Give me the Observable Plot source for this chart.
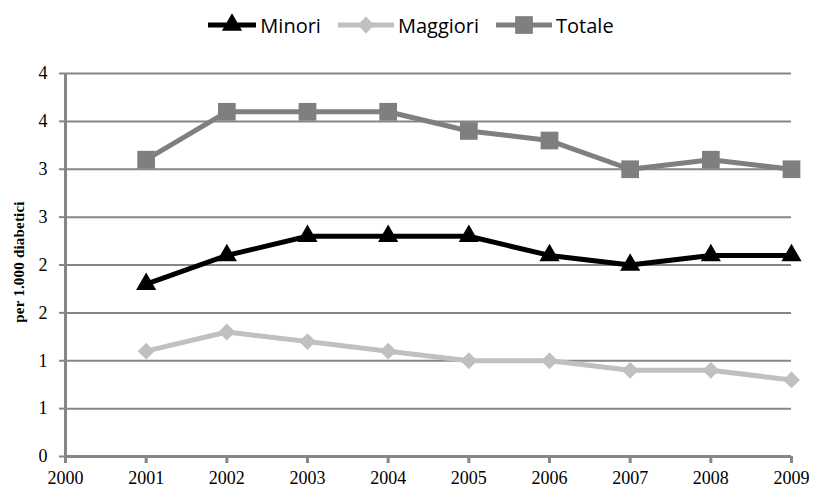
<!DOCTYPE html>
<html>
<head>
<meta charset="utf-8">
<script src="https://cdn.jsdelivr.net/npm/d3@7"></script>
<script src="https://cdn.jsdelivr.net/npm/@observablehq/plot@0.6"></script>
<style>
  html, body { margin: 0; padding: 0; background: #fff; }
  #wrap { width: 813px; height: 489px; position: relative; overflow: hidden; }
  #legend { height: 50px; display: flex; justify-content: center; align-items: center;
    font-family: "Open Sans", sans-serif; font-size: 20px; color: #000; padding-left: 8px; box-sizing: border-box; }
  .item { display: flex; align-items: center; margin-right: 16px; }
  .item:last-child { margin-right: 0; }
  .item svg { display: block; margin-right: 3px; }
  #ylab { position: absolute; left: 19px; top: 262px; transform: translate(-50%, -50%) rotate(-90deg);
    font-family: "Liberation Serif", serif; font-weight: bold; font-size: 15px; white-space: nowrap; color: #000;
    letter-spacing: 0.2px; }
</style>
</head>
<body>
<div id="wrap">
  <div id="legend"></div>
  <div id="chart"></div>
  <div id="ylab">per 1.000 diabetici</div>
</div>
<script>
const years = [2001, 2002, 2003, 2004, 2005, 2006, 2007, 2008, 2009];
const minori   = [1.8, 2.1, 2.3, 2.3, 2.3, 2.1, 2.0, 2.1, 2.1];
const maggiori = [1.1, 1.3, 1.2, 1.1, 1.0, 1.0, 0.9, 0.9, 0.8];
const totale   = [3.1, 3.6, 3.6, 3.6, 3.4, 3.3, 3.0, 3.1, 3.0];
const seriesNames = ["Minori", "Maggiori", "Totale"];
const seriesColors = ["#000000", "#c0c0c0", "#7f7f7f"];
const seriesSymbols = ["triangle", "diamond2", "square"];
const seriesR = [7.5, 7.6, 10];
const xTicks = [2000, 2001, 2002, 2003, 2004, 2005, 2006, 2007, 2008, 2009];
const yTicks = [0, 0.5, 1, 1.5, 2, 2.5, 3, 3.5, 4];
const yTickLabels = ["0", "1", "1", "2", "2", "3", "3", "4", "4"];

const valuesBySeries = [minori, maggiori, totale];
const rows = [];
seriesNames.forEach((s, si) => {
  years.forEach((y, i) => rows.push({series: s, year: y, value: valuesBySeries[si][i], si}));
});

const gridColor = "#868686";

const marks = [
  Plot.ruleY(yTicks.filter(d => d > 0), {stroke: gridColor, strokeWidth: 2}),
  Plot.axisY({ticks: yTicks, tickFormat: d => yTickLabels[yTicks.indexOf(d)], tickSize: 6, tickPadding: 12,
    stroke: gridColor, strokeWidth: 2, fontSize: 18, label: null, strokeOpacity: 1}),
  Plot.axisX({ticks: xTicks, tickFormat: d => String(d), tickSize: 7, tickPadding: 8,
    stroke: gridColor, strokeWidth: 3, fontSize: 18, label: null, strokeOpacity: 1}),
  Plot.ruleX([2000], {stroke: gridColor, strokeWidth: 3}),
  Plot.ruleY([0], {stroke: gridColor, strokeWidth: 3})
];
// draw in order: Totale, Maggiori, Minori
[2, 1, 0].forEach(si => {
  const data = rows.filter(r => r.si === si);
  marks.push(Plot.line(data, {x: "year", y: "value", stroke: seriesColors[si], strokeWidth: 5, curve: "linear"}));
  marks.push(Plot.dot(data, {x: "year", y: "value", symbol: () => seriesSymbols[si], fill: seriesColors[si], r: seriesR[si], stroke: "none"}));
});

const chart = Plot.plot({
  width: 813,
  height: 439,
  marginTop: 23,
  marginBottom: 33,
  marginLeft: 65,
  marginRight: 22,
  style: {fontFamily: "Liberation Serif, serif", fontSize: "18px", color: "#000", background: "#fff"},
  x: {domain: [2000, 2009], label: null},
  y: {domain: [0, 4], label: null},
  symbol: {type: "identity"},
  marks
});
document.getElementById("chart").appendChild(chart);

// legend
const legend = d3.select("#legend");
const swatchW = [50, 58, 58];
seriesNames.forEach((s, si) => {
  const item = legend.append("div").attr("class", "item");
  const w = swatchW[si];
  const svg = item.append("svg").attr("width", w).attr("height", 24);
  svg.append("line").attr("x1", 1).attr("x2", w - 1).attr("y1", 12).attr("y2", 12)
    .attr("stroke", seriesColors[si]).attr("stroke-width", 5);
  const sym = {triangle: d3.symbolTriangle, diamond2: d3.symbolDiamond2, square: d3.symbolSquare}[seriesSymbols[si]];
  svg.append("path").attr("transform", `translate(${w / 2},12)`)
    .attr("d", d3.symbol(sym, Math.PI * seriesR[si] * seriesR[si])())
    .attr("fill", seriesColors[si]);
  item.append("span").text(s);
});
</script>
</body>
</html>
